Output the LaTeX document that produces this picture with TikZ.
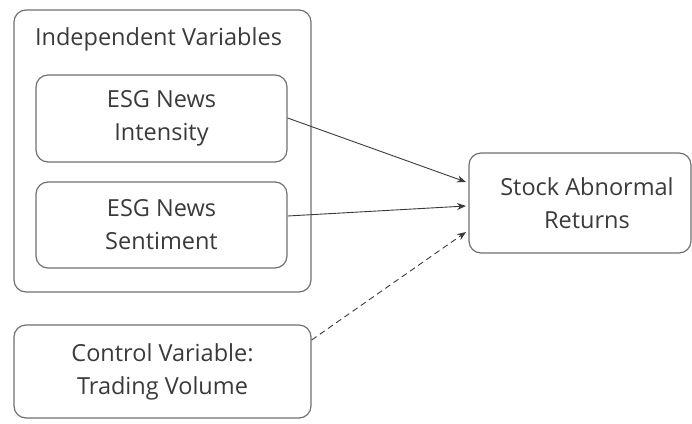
\documentclass[tikz,border=0pt]{standalone}
\usepackage{fontspec}
\setmainfont{Open Sans}
\usetikzlibrary{arrows.meta}
\definecolor{edgegray}{HTML}{707070}
\definecolor{txtgray}{HTML}{3A3A3A}
\begin{document}
\begin{tikzpicture}[x=1pt,y=-1pt,
  box/.style={draw=edgegray,line width=1.2pt,rounded corners=12pt,inner sep=0pt},
  lbl/.style={text=txtgray,font=\fontsize{23.5}{33}\selectfont,align=center},
  conn/.style={draw=txtgray,line width=0.9pt,-{Stealth[length=9pt,width=7pt]}}]
\useasboundingbox (0,0) rectangle (692,423);
\node[box,minimum width=297pt,minimum height=282pt] (outer) at (162.5,151) {};
\node[lbl,anchor=base] (title) at (158.5,45) {Independent Variables};
\node[box,minimum width=251pt,minimum height=87pt] (b1) at (161.5,118.5) {};
\node[lbl] (t1) at (b1.center) {ESG News\\Intensity};
\node[box,minimum width=251pt,minimum height=86pt] (b2) at (161.5,225) {};
\node[lbl] (t2) at (b2.center) {ESG News\\Sentiment};
\node[box,minimum width=297pt,minimum height=93pt] (ctrl) at (162.5,371.5) {};
\node[lbl] (t3) at (ctrl.center) {Control Variable:\\Trading Volume};
\node[box,minimum width=222pt,minimum height=100pt] (stock) at (580,203) {};
\node[lbl] (t4) at (587,203) {Stock Abnormal\\Returns};
\coordinate (e1) at (466,182);
\coordinate (e2) at (466,206);
\coordinate (e3) at (466,232);
\draw[conn] (b1.east |- 0,118) -- (e1);
\draw[conn] (b2.east |- 0,216) -- (e2);
\draw[conn,dashed,dash pattern=on 6pt off 4pt] (ctrl.east |- 0,340) -- (e3);
\end{tikzpicture}
\end{document}
